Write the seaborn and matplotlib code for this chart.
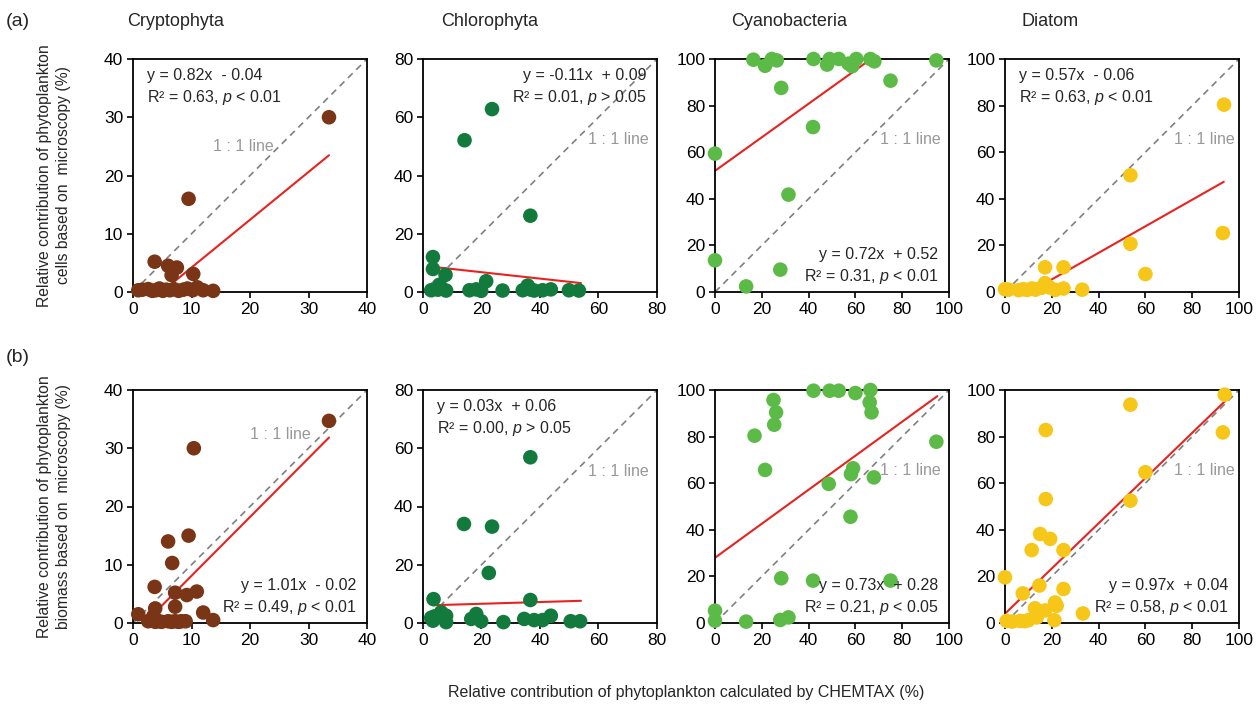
import numpy as np
import pandas as pd
import matplotlib
matplotlib.use("Agg")
import matplotlib.pyplot as plt
import seaborn as sns

# ---- data ----
groups = ['Cryptophyta', 'Chlorophyta', 'Cyanobacteria', 'Diatom']
colors = ['#7a3517', '#127a3c', '#5cba47', '#f6c619']
axis_max = [40, 80, 100, 100]

# (a) cells
crypto_a_x = [33.5, 9.5, 3.7, 6.0, 7.5, 6.6, 10.3, 0.9, 1.6, 2.6, 3.3, 3.9, 4.5, 5.1, 5.7, 6.3, 7.0, 7.8, 8.6, 9.3, 10.2, 11.0, 12.0, 13.7]
crypto_a_y = [30.0, 16.0, 5.2, 4.5, 4.2, 2.9, 3.1, 0.3, 0.4, 0.5, 0.2, 0.3, 0.6, 0.2, 0.4, 0.3, 0.5, 0.2, 0.4, 0.6, 0.3, 0.8, 0.3, 0.2]
chloro_a_x = [14.2, 23.6, 36.7, 3.4, 3.4, 7.7, 5.7, 21.6, 35.8, 2.8, 5.1, 7.9, 15.9, 18.2, 19.9, 27.2, 34.1, 36.9, 38.0, 40.9, 43.7, 49.9, 53.3]
chloro_a_y = [52.1, 62.8, 26.2, 12.0, 7.9, 5.9, 2.5, 3.7, 2.2, 0.6, 0.8, 0.5, 0.6, 0.9, 0.4, 0.5, 0.6, 0.8, 0.5, 0.6, 0.9, 0.6, 0.5]
cyano_a_x = [16.4, 21.4, 24.3, 26.4, 28.3, 42.1, 41.9, 47.9, 49.0, 52.9, 57.1, 58.6, 60.4, 66.4, 68.1, 75.0, 94.6, 0.0, 0.0, 31.4, 27.9, 13.3]
cyano_a_y = [99.7, 97.1, 100.0, 99.4, 87.6, 100.0, 70.8, 97.6, 100.0, 100.0, 98.0, 96.9, 100.0, 100.0, 99.0, 90.7, 99.4, 59.4, 13.6, 41.8, 9.6, 2.4]
diatom_a_x = [93.6, 53.6, 53.6, 93.1, 60.0, 17.1, 25.0, 17.1, 0.0, 1.5, 5.8, 7.8, 9.5, 11.5, 13.0, 15.5, 19.0, 21.5, 25.0, 33.0]
diatom_a_y = [80.4, 50.1, 20.7, 25.3, 7.7, 10.6, 10.6, 3.8, 1.2, 1.0, 0.8, 1.2, 0.9, 1.5, 1.0, 1.8, 2.0, 0.9, 1.5, 1.0]

# (b) biomass
crypto_b_x = [33.5, 10.4, 9.5, 6.0, 6.7, 3.7, 7.2, 9.2, 10.9, 7.2, 3.8, 0.9, 12.0, 13.7, 3.5, 2.6, 3.2, 3.8, 4.4, 4.9, 6.0, 6.6, 7.2, 7.8, 8.3, 9.0]
crypto_b_y = [34.7, 30.0, 15.0, 14.0, 10.3, 6.2, 5.2, 4.8, 5.4, 2.8, 2.5, 1.5, 1.8, 0.5, 1.2, 0.3, 0.4, 0.2, 0.3, 0.2, 0.3, 0.2, 0.3, 0.2, 0.3, 0.3]
chloro_b_x = [36.7, 14.0, 23.6, 22.5, 3.6, 36.7, 4.0, 6.2, 7.9, 3.4, 16.5, 18.2, 19.9, 27.5, 34.6, 38.0, 40.9, 43.7, 50.5, 53.7, 7.9, 2.8]
chloro_b_y = [56.9, 34.0, 33.1, 17.2, 8.2, 7.9, 2.3, 3.7, 2.5, 0.8, 1.4, 3.1, 0.6, 0.3, 1.4, 1.0, 1.0, 2.5, 0.6, 0.6, 0.3, 1.8]
cyano_b_x = [42.1, 49.0, 52.9, 60.0, 66.4, 66.1, 66.9, 25.0, 26.1, 25.3, 16.9, 21.4, 48.6, 59.0, 58.1, 67.9, 57.9, 94.6, 28.3, 41.9, 75.0, 0.0, 0.0, 13.3, 27.9, 31.4]
cyano_b_y = [99.7, 99.7, 99.7, 98.7, 100.0, 94.7, 90.4, 95.7, 90.4, 85.1, 80.4, 65.7, 59.7, 66.4, 63.9, 62.5, 45.6, 77.8, 19.2, 18.2, 18.2, 5.3, 1.0, 0.6, 1.3, 2.4]
diatom_b_x = [93.9, 53.6, 17.4, 93.1, 60.0, 17.4, 53.6, 15.0, 19.3, 11.4, 25.0, 0.0, 7.6, 14.7, 25.0, 33.3, 21.4, 22.1, 17.1, 12.8, 13.6, 10.0, 6.4, 8.5, 0.7, 21.1, 3.0]
diatom_b_y = [98.0, 93.7, 82.8, 81.8, 64.7, 53.2, 52.5, 38.2, 36.1, 31.3, 31.3, 19.6, 12.7, 16.1, 14.6, 4.1, 8.8, 7.4, 5.4, 6.3, 2.4, 1.2, 0.9, 0.8, 0.9, 1.2, 0.6]

# regression fits (fraction units, as printed) and x-range of the drawn fit line
slope_a = [0.82, -0.11, 0.72, 0.57]
icept_a = [-0.04, 0.09, 0.52, -0.06]
r2_a = ['0.63', '0.01', '0.31', '0.63']
p_a = ['< 0.01', '> 0.05', '< 0.01', '< 0.01']
fit_lo_a = [4.5, 5.7, 0.0, 19.5]
fit_hi_a = [33.5, 54.0, 95.0, 93.5]

slope_b = [1.01, 0.03, 0.73, 0.97]
icept_b = [-0.02, 0.06, 0.28, 0.04]
r2_b = ['0.49', '0.00', '0.21', '0.58']
p_b = ['< 0.01', '> 0.05', '< 0.05', '< 0.01']
fit_lo_b = [4.5, 3.4, 0.0, 0.5]
fit_hi_b = [33.5, 54.0, 95.0, 94.0]

rows = [
    dict(xs=[crypto_a_x, chloro_a_x, cyano_a_x, diatom_a_x],
         ys=[crypto_a_y, chloro_a_y, cyano_a_y, diatom_a_y],
         slope=slope_a, icept=icept_a, r2=r2_a, p=p_a, lo=fit_lo_a, hi=fit_hi_a,
         eq_pos=[('l', 'top'), ('r', 'top'), ('r', 'bottom'), ('l', 'top')],
         line_pos=[(0.34, 0.625, 'left'), (0.965, 0.655, 'right'), (0.965, 0.655, 'right'), (0.98, 0.655, 'right')],
         ylabel='Relative contribution of phytoplankton\ncells based on  microscopy (%)'),
    dict(xs=[crypto_b_x, chloro_b_x, cyano_b_x, diatom_b_x],
         ys=[crypto_b_y, chloro_b_y, cyano_b_y, diatom_b_y],
         slope=slope_b, icept=icept_b, r2=r2_b, p=p_b, lo=fit_lo_b, hi=fit_hi_b,
         eq_pos=[('r', 'bottom'), ('l', 'top'), ('r', 'bottom'), ('r', 'bottom')],
         line_pos=[(0.5, 0.81, 'left'), (0.965, 0.65, 'right'), (0.965, 0.655, 'right'), (0.98, 0.655, 'right')],
         ylabel='Relative contribution of phytoplankton\nbiomass based on  microscopy (%)'),
]

sns.set_theme(style="ticks")
plt.rcParams['font.family'] = ['Liberation Sans', 'DejaVu Sans']
plt.rcParams['mathtext.fontset'] = 'custom'
plt.rcParams['mathtext.rm'] = 'Liberation Sans'
plt.rcParams['mathtext.it'] = 'Liberation Sans:italic'

W, H = 1260, 704
fig = plt.figure(figsize=(W / 100, H / 100), dpi=100)

col_left = [133, 423, 715, 1005]
row_top = [59, 390]
aw, ah = 234, 233

for r, row in enumerate(rows):
    for c in range(4):
        ax = fig.add_axes([col_left[c] / W, 1 - (row_top[r] + ah) / H, aw / W, ah / H])
        m = axis_max[c]
        df = pd.DataFrame({'x': row['xs'][c], 'y': row['ys'][c]})
        # 1:1 line
        ax.plot([0, m], [0, m], color='#808080', ls=(0, (4, 3)), lw=1.2, zorder=1)
        # regression line
        fx = np.array([row['lo'][c], row['hi'][c]])
        fy = row['slope'][c] * fx + row['icept'][c] * 100
        ax.plot(fx, fy, color='#e8231f', lw=1.5, zorder=2)
        sns.scatterplot(data=df, x='x', y='y', ax=ax, color=colors[c], s=110,
                        edgecolor='none', linewidth=0, clip_on=False, zorder=3, legend=False)
        ax.set_xlim(0, m)
        ax.set_ylim(0, m)
        step = 10 if m == 40 else 20
        ticks = np.arange(0, m + 1, step)
        ax.set_xticks(ticks)
        ax.set_yticks(ticks)
        ax.set_xlabel('')
        ax.set_ylabel('')
        ax.tick_params(direction='out', length=4, width=1.2, labelsize=12.5, colors='black', pad=3)
        for sp in ax.spines.values():
            sp.set_visible(True)
            sp.set_linewidth(1.3)
            sp.set_color('black')

        # equation text
        side, vert = row['eq_pos'][c]
        eq = 'y = {:.2f}x  {} {:.2f}'.format(row['slope'][c], '-' if row['icept'][c] < 0 else '+', abs(row['icept'][c]))
        stat = 'R² = {}, $\\mathit{{p}}$ {}'.format(row['r2'][c], row['p'][c])
        tx = 0.06 if side == 'l' else 0.955
        ha = 'left' if side == 'l' else 'right'
        y1, y2 = (0.93, 0.835) if vert == 'top' else (0.16, 0.065)
        ax.text(tx, y1, eq, transform=ax.transAxes, ha=ha, va='center', fontsize=11.5)
        ax.text(tx, y2, stat, transform=ax.transAxes, ha=ha, va='center', fontsize=11.5)

        lx, ly, lha = row['line_pos'][c]
        ax.text(lx, ly, '1 : 1 line', transform=ax.transAxes, ha=lha, va='center',
                fontsize=11.5, color='#999999')

    fig.text(54 / W, 1 - (row_top[r] + ah / 2) / H, row['ylabel'], rotation=90,
             ha='center', va='center', fontsize=11.3, linespacing=1.3)

# column titles and panel labels
title_x = [176, 490, 789, 1050]
for c, g in enumerate(groups):
    fig.text(title_x[c] / W, 1 - 22 / H, g, ha='center', va='center', fontsize=13)
fig.text(6 / W, 1 - 22 / H, '(a)', ha='left', va='center', fontsize=14)
fig.text(6 / W, 1 - 357 / H, '(b)', ha='left', va='center', fontsize=14)
fig.text(686 / W, 1 - 692 / H, 'Relative contribution of phytoplankton calculated by CHEMTAX (%)',
         ha='center', va='center', fontsize=11.5)

fig.savefig('out.png', dpi=100)
